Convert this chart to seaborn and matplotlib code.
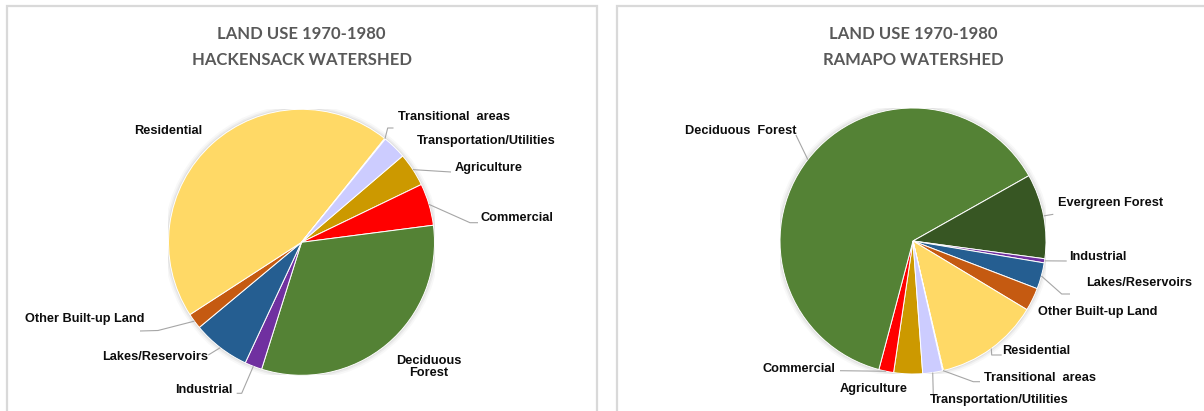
import numpy as np
import matplotlib
matplotlib.use("Agg")
import matplotlib.pyplot as plt
import seaborn as sns
from matplotlib.patches import Rectangle, Circle

# ---- data (percent of watershed area) ----
hack_categories = ["Agriculture", "Commercial", "Deciduous Forest", "Industrial",
                   "Lakes/Reservoirs", "Other Built-up Land", "Residential",
                   "Transitional areas", "Transportation/Utilities"]
hack_values = [4.1, 5.1, 31.9, 2.1, 7.0, 1.9, 44.9, 0.1, 2.9]

ramapo_categories = ["Agriculture", "Commercial", "Deciduous Forest", "Evergreen Forest",
                     "Industrial", "Lakes/Reservoirs", "Other Built-up Land", "Residential",
                     "Transitional areas", "Transportation/Utilities"]
ramapo_values = [3.5, 1.8, 62.7, 10.3, 0.5, 3.2, 2.8, 12.7, 0.1, 2.4]

hack_title = "LAND USE 1970-1980\nHACKENSACK WATERSHED"
ramapo_title = "LAND USE 1970-1980\nRAMAPO WATERSHED"

category_colors = {
    "Agriculture": "#CC9900",
    "Commercial": "#FF0000",
    "Deciduous Forest": "#548235",
    "Evergreen Forest": "#375623",
    "Industrial": "#7030A0",
    "Lakes/Reservoirs": "#255E91",
    "Other Built-up Land": "#C55A11",
    "Residential": "#FFD966",
    "Transitional areas": "#2F5F22",
    "Transportation/Utilities": "#CCCCFF",
}

# ---- layout in pixels (figure is 1204 x 411) ----
W, H = 1204, 411
R = 133

hack_layout = dict(
    center=(301.5, 242.3), start=40.5,
    labels={
        "Agriculture": ("Agriculture", (489, 168), [(451, 172)]),
        "Commercial": ("Commercial", (516.7, 218), [(470, 222.7), (478, 222.7)]),
        "Deciduous Forest": ("Deciduous\nForest", (429, 367), None),
        "Industrial": ("Industrial", (203.5, 390), [(241.7, 393.3), (236.7, 393.3)]),
        "Lakes/Reservoirs": ("Lakes/Reservoirs", (155, 357), [(208.3, 355)]),
        "Other Built-up Land": ("Other Built-up Land", (85, 319), [(158, 330.5), (140, 331)]),
        "Residential": ("Residential", (168, 131), None),
        "Transitional areas": ("Transitional  areas", (454, 117), [(387.7, 128), (393.5, 128)]),
        "Transportation/Utilities": ("Transportation/Utilities", (486.5, 141), None),
    },
)

ramapo_layout = dict(
    center=(913, 241), start=-85.8,
    labels={
        "Agriculture": ("Agriculture", (873.2, 389), None),
        "Commercial": ("Commercial", (799, 369), [(840, 370.7)]),
        "Deciduous Forest": ("Deciduous  Forest", (740.8, 131), [(795.9, 135)]),
        "Evergreen Forest": ("Evergreen Forest", (1110.7, 203), [(1053.3, 214.3)]),
        "Industrial": ("Industrial", (1097.8, 257), [(1066.7, 261)]),
        "Lakes/Reservoirs": ("Lakes/Reservoirs", (1138.9, 283), [(1061.7, 294), (1070, 294)]),
        "Other Built-up Land": ("Other Built-up Land", (1098, 312), None),
        "Residential": ("Residential", (1036, 351), [(991.7, 355), (1001.7, 355)]),
        "Transitional areas": ("Transitional  areas", (1039.6, 378), [(973.3, 381.7), (980, 381.7)]),
        "Transportation/Utilities": ("Transportation/Utilities", (999.6, 400), [(933.3, 395)]),
    },
)

sns.set_theme(style="white")
plt.rcParams["font.family"] = ["Liberation Sans", "DejaVu Sans"]

fig = plt.figure(figsize=(W / 100, H / 100), dpi=100)
fig.patch.set_facecolor("white")

# panel frames (open at the bottom / right edge of the image)
border = "#D9D9D9"
top = 1 - 6 / H
fig.patches.append(Rectangle((7 / W, -0.1), (596.7 - 7) / W, top + 0.1,
                             transform=fig.transFigure, fill=False,
                             edgecolor=border, linewidth=1.6))
fig.patches.append(Rectangle((617.3 / W, -0.1), 0.6, top + 0.1,
                             transform=fig.transFigure, fill=False,
                             edgecolor=border, linewidth=1.6))


def draw_pie(categories, values, layout, title):
    cx, cy = layout["center"]
    ax = fig.add_axes([(cx - R) / W, 1 - (cy + R) / H, 2 * R / W, 2 * R / H])
    ax.axis("off")

    # soft shadow ring behind the pie
    for rr, a in [(1.035, 0.05), (1.022, 0.08), (1.011, 0.12)]:
        ax.add_patch(Circle((0, 0), rr, facecolor="#7f7f7f", alpha=a,
                            edgecolor="none", zorder=0))

    palette = sns.color_palette([category_colors[c] for c in categories])
    wedges, _ = ax.pie(values, colors=palette, startangle=layout["start"],
                       counterclock=False, radius=1,
                       wedgeprops=dict(edgecolor="white", linewidth=0.7))
    ax.set_xlim(-1, 1)
    ax.set_ylim(-1, 1)
    ax.set_aspect("equal")

    def to_data(p):
        return ((p[0] - cx) / R, (cy - p[1]) / R)

    for cat, w in zip(categories, wedges):
        text, pos, path = layout["labels"][cat]
        tx, ty = to_data(pos)
        ax.text(tx, ty, text, ha="center", va="center", fontsize=9.2,
                fontweight="bold", color="#0D0D0D", clip_on=False,
                linespacing=1.1)
        if path:
            mid = np.deg2rad((w.theta1 + w.theta2) / 2)
            pts = [(np.cos(mid), np.sin(mid))] + [to_data(p) for p in path]
            xs, ys = zip(*pts)
            ax.plot(xs, ys, color="#A6A6A6", linewidth=0.8, clip_on=False,
                    solid_capstyle="butt")

    fig.text(cx / W, 1 - 47 / H, title, ha="center", va="center",
             fontsize=12, fontweight="bold", color="#595959",
             family=["Lato", "DejaVu Sans"], linespacing=1.7)


draw_pie(hack_categories, hack_values, hack_layout, hack_title)
draw_pie(ramapo_categories, ramapo_values, ramapo_layout, ramapo_title)

fig.savefig("out.png", dpi=100, facecolor="white")
